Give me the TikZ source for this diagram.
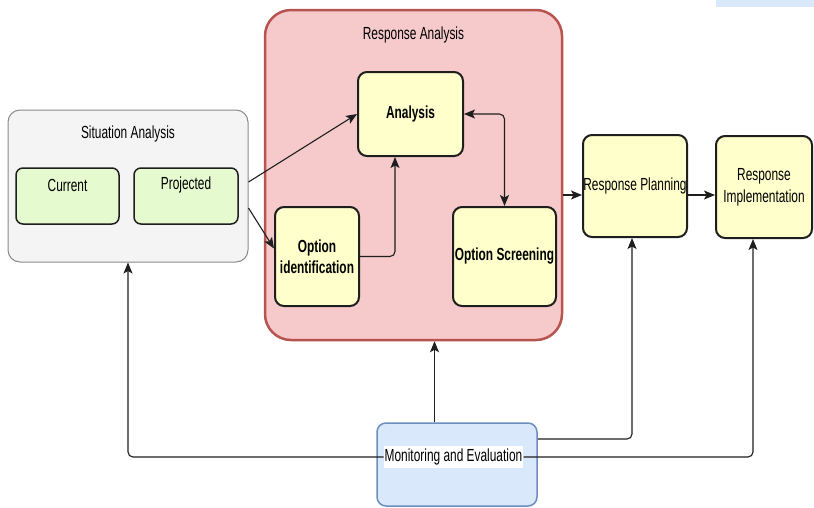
\documentclass[tikz,border=0pt]{standalone}
\usepackage{fontspec}
\setmainfont{Liberation Sans}[FakeStretch=0.68]
\usetikzlibrary{arrows.meta}
\definecolor{yfill}{HTML}{FFFFCC}
\definecolor{gfill}{HTML}{E6FAD0}
\definecolor{rfill}{HTML}{F6CACA}
\definecolor{rline}{HTML}{B85450}
\definecolor{sfill}{HTML}{F4F4F4}
\definecolor{sline}{HTML}{8A8A8A}
\definecolor{bfill}{HTML}{DAE8FC}
\definecolor{bline}{HTML}{6C8EBF}
\definecolor{dark}{HTML}{1E1E1E}
\tikzset{
  every node/.style={font=\fontsize{17.5}{19}\selectfont, inner sep=0pt},
  ybox/.style={draw=dark, line width=2pt, fill=yfill, rounded corners=9pt, align=center},
  gbox/.style={draw=dark, line width=1.5pt, fill=gfill, rounded corners=7pt},
  tip/.style={Stealth[length=11pt,width=9pt,inset=2.5pt]},
  arr/.style={-{Stealth[length=11pt,width=9pt,inset=2.5pt]}, line width=1.1pt, draw=dark, rounded corners=5pt},
  arrtwo/.style={{Stealth[length=11pt,width=9pt,inset=2.5pt]}-{Stealth[length=11pt,width=9pt,inset=2.5pt]}, line width=1.1pt, draw=dark, rounded corners=5pt},
}
\begin{document}
\begin{tikzpicture}[x=1pt,y=-1pt]
\useasboundingbox (0,0) rectangle (814,507);
\fill[bfill] (716,0) rectangle (814,7);

% Situation Analysis
\node[draw=sline, line width=1pt, fill=sfill, rounded corners=12pt, minimum width=240pt, minimum height=152pt] (SA) at (128,186) {};
\node (SAt) at (128,134) {Situation Analysis};
\node[gbox, minimum width=103pt, minimum height=56pt] (Cur) at (67.5,196) {};
\node (Curt) at (67.5,185) {Current};
\node[gbox, minimum width=104pt, minimum height=56pt] (Proj) at (186,196) {};
\node (Projt) at (186,185) {Projected};

% Response Analysis
\node[draw=rline, line width=2.5pt, fill=rfill, rounded corners=26pt, minimum width=297pt, minimum height=330pt] (RA) at (413.5,175) {};
\node (RAt) at (413.5,35) {Response Analysis};
\node[ybox, minimum width=105pt, minimum height=84pt, font=\fontsize{17.5}{19}\selectfont\bfseries] (An) at (410.5,114) {Analysis};
\node[ybox, minimum width=84pt, minimum height=99pt, font=\fontsize{17.5}{21}\selectfont\bfseries] (OI) at (317,256.5) {Option\\identification};
\node[ybox, minimum width=103pt, minimum height=99pt, font=\fontsize{17.5}{19}\selectfont\bfseries] (OS) at (504.5,256.5) {Option Screening};

% Response Planning / Implementation
\node[ybox, minimum width=104pt, minimum height=102pt] (RP) at (635,186) {Response Planning};
\node[ybox, minimum width=96pt, minimum height=102pt, font=\fontsize{17.5}{22}\selectfont] (RI) at (764,187) {Response\\Implementation};

% Monitoring
\node[draw=bline, line width=1.5pt, fill=bfill, rounded corners=9pt, minimum width=160pt, minimum height=83pt] (ME) at (457,464.5) {};
\node[fill=white, inner xsep=1pt, inner ysep=3pt] (MEt) at (453.5,457) {Monitoring and Evaluation};

% connectors
\draw[arr] ([yshift=4pt]SA.east) -- (An.west);
\draw[arr] ([yshift=-22pt]SA.east) -- ([yshift=8pt]OI.west);
\draw[arr] (OI.east) -| ([xshift=-15.5pt]An.south);
\draw[arrtwo] (An.east) -| (OS.north);
\coordinate (rpin) at ([yshift=-9pt]RP.west);
\draw[arr] (RA.east |- rpin) -- (rpin);
\coordinate (rpout) at ([yshift=-9pt]RP.east);
\draw[arr] (rpout) -- (rpout -| RI.west);
\coordinate (mtop) at ([xshift=-22.5pt]ME.north);
\draw[arr] (mtop) -- (mtop |- RA.south);
\draw[arr] (MEt.west) -| (SA.south);
\draw[arr] ([yshift=25.5pt]ME.east) -| ([xshift=-3pt]RP.south);
\draw[arr] (MEt.east) -| ([xshift=-11pt]RI.south);
\end{tikzpicture}
\end{document}
